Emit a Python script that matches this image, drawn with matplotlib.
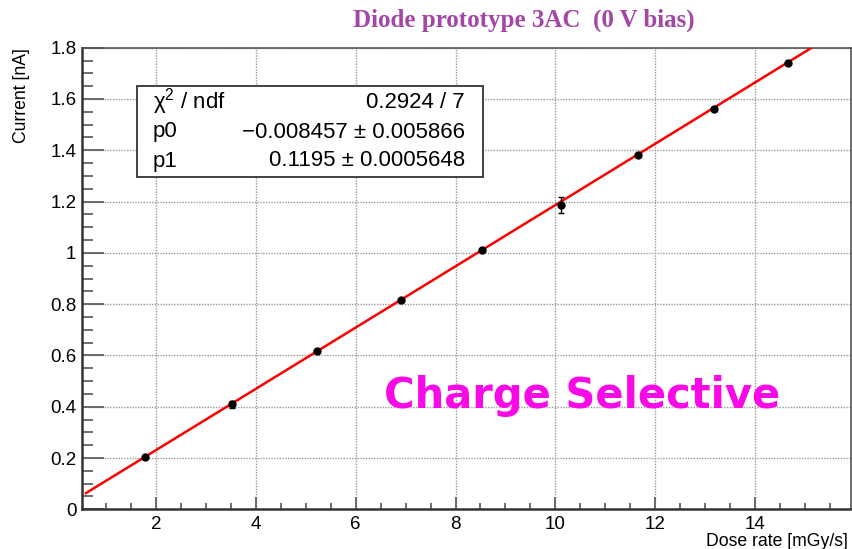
import numpy as np
import matplotlib
matplotlib.use("Agg")
import matplotlib.pyplot as plt
from matplotlib.ticker import MultipleLocator, FuncFormatter

# ---- data ----
dose_rate = [1.78, 3.53, 5.23, 6.90, 8.53, 10.11, 11.66, 13.17, 14.65]
current = [0.203, 0.410, 0.617, 0.815, 1.010, 1.185, 1.381, 1.562, 1.741]
current_err = [0.005, 0.014, 0.005, 0.006, 0.006, 0.031, 0.006, 0.006, 0.006]
p0 = -0.008457
p1 = 0.1195
fit_range = [0.6, 15.93]

title = "Diode prototype 3AC  (0 V bias)"
xlabel = "Dose rate [mGy/s]"
ylabel = "Current [nA]"
stats_names = ["\u03c7$^{2}$ / ndf", "p0", "p1"]
stats_values = ["0.2924 / 7", "\u22120.008457 \u00b1 0.005866", "0.1195 \u00b1 0.0005648"]
annotation = "Charge Selective"

W, H = 853, 549
fig = plt.figure(figsize=(W / 100, H / 100), dpi=100)
ax = fig.add_axes([82 / W, 1 - 509.3 / H, (851.5 - 82) / W, (509.3 - 47.7) / H])

sans = ["Liberation Sans", "DejaVu Sans"]
plt.rcParams["mathtext.fontset"] = "custom"
plt.rcParams["mathtext.rm"] = "Liberation Sans"

ax.set_xlim(0.52, 15.93)
ax.set_ylim(0, 1.8)

# fit line
xf = np.linspace(fit_range[0], fit_range[1], 200)
ax.plot(xf, p0 + p1 * xf, color="#ff0000", lw=1.8, zorder=3)

# data points
ax.errorbar(dose_rate, current, yerr=current_err, fmt="o", color="black",
            ms=5, elinewidth=1, capsize=2, capthick=1, zorder=4)

# axes styling (ROOT-like)
ax.xaxis.set_major_locator(MultipleLocator(2))
ax.xaxis.set_minor_locator(MultipleLocator(0.5))
ax.yaxis.set_major_locator(MultipleLocator(0.2))
ax.yaxis.set_minor_locator(MultipleLocator(0.05))
ax.tick_params(axis="y", which="major", direction="in", length=16, width=1.2,
               color="#555555", pad=4, labelsize=13.5)
ax.tick_params(axis="y", which="minor", direction="in", length=8, width=1.2,
               color="#555555")
ax.tick_params(axis="x", which="major", direction="in", length=9, width=1.2,
               color="#555555", pad=5, labelsize=13.5)
ax.tick_params(axis="x", which="minor", direction="in", length=4.5, width=1.2,
               color="#555555")

ax.yaxis.set_major_formatter(FuncFormatter(
    lambda v, p: "0" if abs(v) < 1e-9 else ("1" if abs(v - 1) < 1e-9 else f"{v:.1f}")))
ax.xaxis.set_major_formatter(FuncFormatter(lambda v, p: f"{v:.0f}"))
for lbl in ax.get_xticklabels() + ax.get_yticklabels():
    lbl.set_family(sans)

ax.grid(True, which="major", color="#9a9a9a", linestyle=(0, (1, 1)), lw=1)
ax.set_axisbelow(True)
for side in ["left", "bottom"]:
    ax.spines[side].set_linewidth(1.8)
    ax.spines[side].set_color("#333333")
for side in ["top", "right"]:
    ax.spines[side].set_linewidth(1.2)
    ax.spines[side].set_color("#555555")

# labels
fig.text(22 / W, 1 - 48 / H, ylabel, rotation=90, ha="center", va="top",
         fontsize=12.7, family=sans)
fig.text(848 / W, 1 - 546 / H, xlabel, ha="right", va="baseline",
         fontsize=12.7, family=sans)

# title
fig.text(524 / W, 1 - 20 / H, title, ha="center", va="center", fontsize=18,
         fontweight="bold", color="#a346a6",
         family=["Liberation Serif", "DejaVu Serif"])

# stats box
bx0, by0, bx1, by1 = 137, 86, 483, 177
box = plt.Rectangle((bx0 / W, 1 - by1 / H), (bx1 - bx0) / W, (by1 - by0) / H,
                    transform=fig.transFigure, facecolor="white",
                    edgecolor="#333333", lw=1.3, zorder=5)
fig.add_artist(box)
rows_y = [102, 132, 161]
for name, val, ry in zip(stats_names, stats_values, rows_y):
    fig.text(153 / W, 1 - ry / H, name, ha="left", va="center", fontsize=16,
             family=sans, zorder=6)
    fig.text(465 / W, 1 - ry / H, val, ha="right", va="center", fontsize=16,
             family=sans, zorder=6)

# annotation
fig.text(582 / W, 1 - 396 / H, annotation, ha="center", va="center",
         fontsize=30, fontweight="bold", color="#f80ae6",
         family=["DejaVu Sans", "Liberation Sans"])

fig.savefig("out.png", dpi=100)
